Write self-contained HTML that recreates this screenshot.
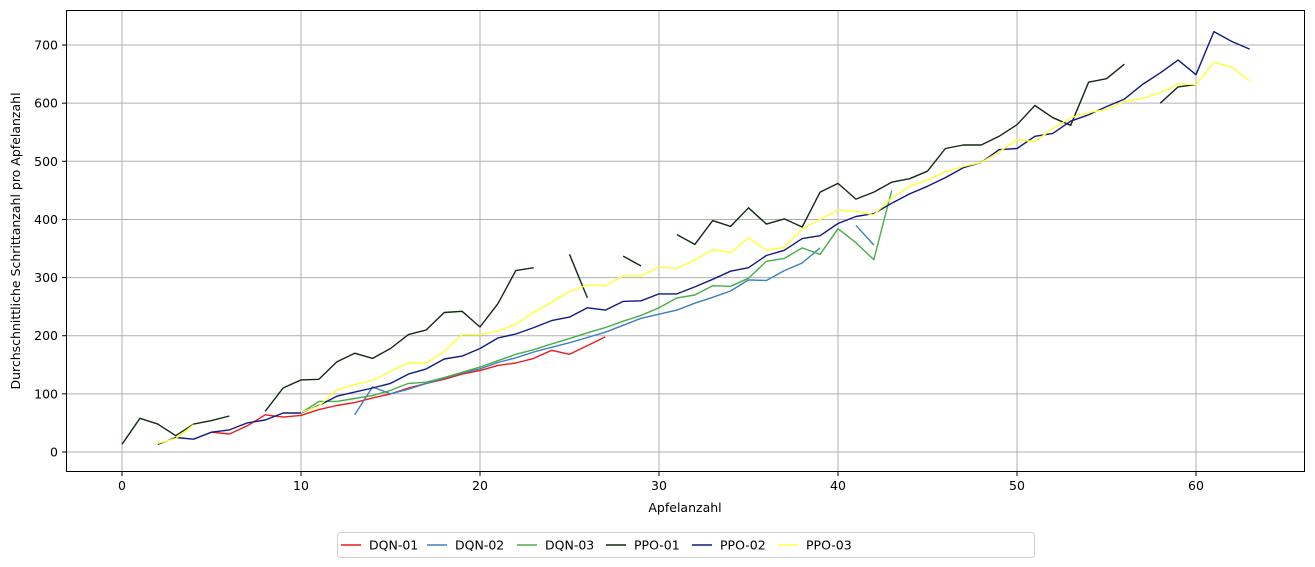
<!DOCTYPE html>
<html><head><meta charset="utf-8"><style>
body{margin:0;background:#fff;font-family:"Liberation Sans","DejaVu Sans",sans-serif;}
svg{display:block}
text{font-family:"DejaVu Sans","Liberation Sans",sans-serif;font-size:12.5px;fill:#000}
</style></head><body>
<svg id="chart" width="1315" height="567"></svg>
<script>
const xTicks=[0,10,20,30,40,50,60];
const yTicks=[0,100,200,300,400,500,600,700];
const seriesNames=["DQN-01","DQN-02","DQN-03","PPO-01","PPO-02","PPO-03"];
const seriesColors=["#ee1c1c","#3a80c0","#48ad48","#142814","#101a80","#ffff33"];
const N=null;
const dqn01=[N,N,N,N,N,34,31,45,64,60,63,73,80,85,93,100,110,118,125,134,140,149,153,161,175,168,183,198];
const dqn02=[N,N,N,N,N,N,N,N,N,N,N,N,N,64,112,100,108,118,127,136,143,154,162,172,180,188,197,206,218,230,237,244,256,266,277,296,295,312,325,351,N,390,356];
const dqn03=[N,N,N,N,N,N,N,N,N,N,67,87,87,92,97,106,118,120,128,137,146,157,168,176,186,195,205,214,225,235,248,265,270,286,285,299,328,333,351,340,384,360,331,450];
const ppo01=[13,58,48,28,48,54,62,N,70,110,124,125,155,170,161,178,202,210,240,242,215,255,312,317,N,340,265,N,337,320,N,374,357,398,388,420,392,401,387,447,462,435,447,464,470,483,522,528,528,543,563,596,575,562,636,642,667,N,600,628,632];
const ppo02=[N,N,13,25,22,34,38,50,55,67,67,80,96,103,110,118,134,143,160,165,178,196,203,214,226,232,248,244,259,260,272,272,284,297,311,317,338,347,367,372,393,405,410,428,444,457,472,489,498,520,522,543,548,569,580,594,607,632,652,674,649,723,706,693];
const ppo03=[N,N,15,23,47,N,N,N,N,N,68,79,107,116,123,139,153,153,173,202,202,208,220,240,258,276,287,286,303,303,318,316,330,348,343,368,347,352,384,400,416,414,408,437,457,468,482,491,498,516,537,534,556,575,584,589,603,608,618,633,632,670,662,638];
const allSeries=[dqn01,dqn02,dqn03,ppo01,ppo02,ppo03];

const svg=document.getElementById('chart');
const NS="http://www.w3.org/2000/svg";
const L=66,R=1305,T=10,B=472;
const X=v=>122+v*17.9;
const Y=v=>452-v*0.5814;
function mk(tag,attrs,parent){const e=document.createElementNS(NS,tag);for(const k in attrs)e.setAttribute(k,attrs[k]);(parent||svg).appendChild(e);return e;}

const grid=mk('g',{});


xTicks.forEach(t=>{
  const l=mk('line',{x1:X(t),x2:X(t),y1:T,y2:B,stroke:'#b0b0b0','stroke-width':1},grid);
  
  
  mk('line',{x1:X(t),x2:X(t),y1:B,y2:B+4,stroke:'#000'});
  const tx=mk('text',{x:X(t),y:B+18,'text-anchor':'middle'});tx.textContent=t;
  
  
});
yTicks.forEach(t=>{
  const l=mk('line',{x1:L,x2:R,y1:Y(t),y2:Y(t),stroke:'#b0b0b0','stroke-width':1},grid);
  
  
  mk('line',{x1:L-4,x2:L,y1:Y(t),y2:Y(t),stroke:'#000'});
  const tx=mk('text',{x:L-8,y:Y(t)+4.5,'text-anchor':'end'});tx.textContent=t;
  
  
});

allSeries.forEach((s,i)=>{
  let d='',pen=false;
  s.forEach((v,x)=>{ if(v===null){pen=false;return;} d+=(pen?'L':'M')+X(x).toFixed(1)+' '+Y(v).toFixed(1)+' '; pen=true; });
  const p=mk('path',{d:d,fill:'none',stroke:seriesColors[i],'stroke-width':1.4,'stroke-linejoin':'round'});
  
  
});

const frame=mk('rect',{x:L+0.5,y:T+0.5,width:R-L-1,height:B-T-1,fill:'none',stroke:'#000','stroke-width':1});



const xt=mk('text',{x:685,y:512,'text-anchor':'middle'});xt.textContent='Apfelanzahl';


const yt=mk('text',{x:20,y:241,'text-anchor':'middle',transform:'rotate(-90 20 241)'});yt.textContent='Durchschnittliche Schrittanzahl pro Apfelanzahl';



const lg=mk('g',{});


mk('rect',{x:337.5,y:532.5,width:697,height:25,rx:3,fill:'#fff',stroke:'#d0d0d0'},lg);
const lx=[341,427,517,606,692,778];
seriesNames.forEach((n,i)=>{
  const g=mk('g',{},lg);
  
  
  mk('line',{x1:lx[i],x2:lx[i]+20,y1:545,y2:545,stroke:seriesColors[i],'stroke-width':1.6},g);
  const t=mk('text',{x:lx[i]+28,y:549.5},g);t.textContent=n;
});
</script>
</body></html>
